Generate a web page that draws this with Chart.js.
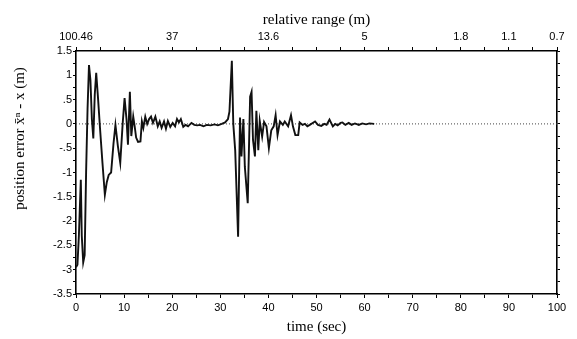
<!DOCTYPE html>
<html>
<head>
<meta charset="utf-8">
<script src="https://cdn.jsdelivr.net/npm/chart.js@4/dist/chart.umd.min.js"></script>
<style>
  html, body { margin: 0; padding: 0; background: #fff; }
  #wrap { width: 577px; height: 339px; position: relative; }
</style>
</head>
<body>
<div id="wrap"><canvas id="c" width="577" height="339"></canvas></div>
<script>
// ---- data ----
const timeSec = [0.0,0.3,0.6,1.0,1.2,1.5,1.8,2.1,2.4,2.7,3.0,3.3,3.6,3.9,4.2,4.6,5.0,5.5,6.0,6.4,6.8,7.3,7.8,8.2,8.7,9.2,9.7,10.1,10.5,10.8,11.2,11.5,11.9,12.2,12.5,12.9,13.4,13.7,14.0,14.4,14.8,15.2,15.6,16.0,16.5,17.0,17.4,17.8,18.3,18.7,19.1,19.6,20.1,20.6,21.0,21.4,21.8,22.3,22.8,23.3,24.0,24.6,25.2,25.8,26.5,27.2,28.0,28.8,29.5,30.3,31.0,31.6,31.9,32.4,32.7,33.1,33.7,34.1,34.4,34.8,35.1,35.7,36.2,36.5,36.8,37.2,37.5,37.9,38.2,38.7,39.1,39.6,40.1,40.6,41.1,41.5,41.9,42.4,43.0,43.4,44.1,44.7,45.1,45.6,46.2,46.5,47.1,47.6,48.1,48.6,49.2,49.7,50.3,51.0,51.6,52.1,52.7,53.4,53.9,54.4,55.0,55.4,56.0,56.7,57.3,58.0,58.8,59.5,60.3,61.0,62.0];
const positionError = [-2.95,-2.9,-2.3,-1.15,-2.3,-2.85,-2.7,-1.0,0.3,1.21,0.9,0.1,-0.3,0.6,1.05,0.5,-0.1,-0.8,-1.46,-1.2,-1.05,-1.0,-0.4,-0.02,-0.45,-0.8,0.0,0.53,0.1,-0.43,0.66,-0.25,0.15,-0.05,-0.28,-0.37,-0.36,0.05,-0.08,0.15,0.0,0.1,0.15,0.02,0.15,-0.05,0.05,-0.08,0.05,-0.1,0.06,-0.06,0.02,-0.05,0.1,0.03,0.1,-0.06,-0.02,-0.05,0.02,-0.02,-0.03,-0.02,-0.05,-0.02,-0.03,-0.01,-0.03,0.0,0.03,0.1,0.25,1.3,0.0,-0.55,-2.32,0.13,-0.67,0.1,-0.88,-1.63,0.56,0.66,-0.33,-0.67,0.27,-0.54,0.06,-0.26,0.04,-0.05,-0.5,-0.13,-0.05,0.18,-0.23,0.05,-0.02,0.05,-0.05,0.18,-0.05,-0.23,-0.23,0.03,-0.02,0.0,-0.05,-0.02,0.02,0.05,-0.02,-0.04,0.0,-0.02,0.09,-0.05,0.0,-0.03,0.02,0.03,-0.02,0.02,-0.02,0.01,-0.02,0.01,-0.01,0.01,0.0];

const zeroLineX = [0, 100];
const zeroLineY = [0, 0];

const bottomTickValues = [0,5,10,15,20,25,30,35,40,45,50,55,60,65,70,75,80,85,90,95,100];
const bottomTickLabels = {0:'0',10:'10',20:'20',30:'30',40:'40',50:'50',60:'60',70:'70',80:'80',90:'90',100:'100'};

const topTickTimes  = [0, 20, 40, 60, 80, 90, 100];
const topTickLabels = ['100.46', '37', '13.6', '5', '1.8', '1.1', '0.7'];
const topMinorTimes = [5,10,15,25,30,35,45,50,55,65,70,75,85,95];

const yTickValues = [1.5,1.25,1,0.75,0.5,0.25,0,-0.25,-0.5,-0.75,-1,-1.25,-1.5,-1.75,-2,-2.25,-2.5,-2.75,-3,-3.25,-3.5];
const yTickLabels = {'1.5':'1.5','1':'1','0.5':'.5','0':'0','-0.5':'-.5','-1':'-1','-1.5':'-1.5','-2':'-2','-2.5':'-2.5','-3':'-3','-3.5':'-3.5'};

const yTitle = 'position error x̄ⁿ - x (m)';

// ---- chart ----
const mainPts = timeSec.map((t, i) => ({x: t, y: positionError[i]}));
const zeroPts = zeroLineX.map((t, i) => ({x: t, y: zeroLineY[i]}));

const sans = 'Liberation Sans, Arial, sans-serif';
const serif = 'Liberation Serif, Times New Roman, serif';

const topAll = topTickTimes.concat(topMinorTimes).sort((a,b)=>a-b);

function axisBorder() { return {display: true, color: '#000', width: 1.6}; }
function tickGrid(len) { return {display: true, drawOnChartArea: false, drawTicks: true, tickLength: len, color: '#000', lineWidth: 1}; }

// y-axis title drawn above the centre of the axis, as in the reference
const yTitlePlugin = {
  id: 'yTitle',
  afterDraw(chart) {
    const ca = chart.chartArea;
    const ctx = chart.ctx;
    ctx.save();
    ctx.font = '15px ' + serif;
    ctx.fillStyle = '#000';
    ctx.textAlign = 'center';
    ctx.textBaseline = 'middle';
    ctx.translate(20, ca.top + (ca.bottom - ca.top) * 0.36);
    ctx.rotate(-Math.PI / 2);
    ctx.fillText(yTitle, 0, 0);
    ctx.restore();
  }
};

new Chart(document.getElementById('c'), {
  type: 'line',
  data: {
    datasets: [
      {data: mainPts, borderColor: '#111', borderWidth: 1.9, pointRadius: 0, tension: 0, fill: false, xAxisID: 'x', yAxisID: 'y'},
      {data: zeroPts, borderColor: '#444', borderWidth: 1, borderDash: [1, 2], pointRadius: 0, tension: 0, fill: false, xAxisID: 'x', yAxisID: 'y'}
    ]
  },
  plugins: [yTitlePlugin],
  options: {
    responsive: false,
    animation: false,
    devicePixelRatio: 1,
    layout: {padding: 0},
    plugins: {legend: {display: false}, tooltip: {enabled: false}},
    scales: {
      x: {
        type: 'linear', position: 'bottom', min: 0, max: 100,
        border: axisBorder(), grid: tickGrid(4),
        afterBuildTicks: s => { s.ticks = bottomTickValues.map(v => ({value: v})); },
        ticks: {autoSkip: false, maxRotation: 0, padding: 3, color: '#000', font: {family: sans, size: 11},
                callback: v => bottomTickLabels[v] !== undefined ? bottomTickLabels[v] : ''},
        title: {display: true, text: 'time (sec)', color: '#000', font: {family: serif, size: 15}, padding: {top: 0, bottom: 3}},
        afterFit: s => { s.height = 45; }
      },
      x2: {
        type: 'linear', position: 'top', min: 0, max: 100,
        border: axisBorder(), grid: tickGrid(4),
        afterBuildTicks: s => { s.ticks = topAll.map(v => ({value: v})); },
        ticks: {autoSkip: false, maxRotation: 0, padding: 3, color: '#000', font: {family: sans, size: 11},
                callback: v => { const i = topTickTimes.indexOf(v); return i >= 0 ? topTickLabels[i] : ''; }},
        title: {display: true, text: 'relative range (m)', color: '#000', font: {family: serif, size: 15}, padding: {top: 11, bottom: 0}},
        afterFit: s => { s.height = 51; }
      },
      y: {
        type: 'linear', position: 'left', min: -3.5, max: 1.5,
        border: axisBorder(), grid: tickGrid(3),
        afterBuildTicks: s => { s.ticks = yTickValues.map(v => ({value: v})); },
        ticks: {autoSkip: false, padding: 1, color: '#000', font: {family: sans, size: 11},
                callback: v => yTickLabels[String(v)] !== undefined ? yTickLabels[String(v)] : ''},
        title: {display: false},
        afterFit: s => { s.width = 76; }
      },
      y2: {
        type: 'linear', position: 'right', min: -3.5, max: 1.5,
        border: axisBorder(), grid: tickGrid(3),
        afterBuildTicks: s => { s.ticks = yTickValues.map(v => ({value: v})); },
        ticks: {autoSkip: false, display: false},
        afterFit: s => { s.width = 20; }
      }
    }
  }
});
</script>
</body>
</html>
